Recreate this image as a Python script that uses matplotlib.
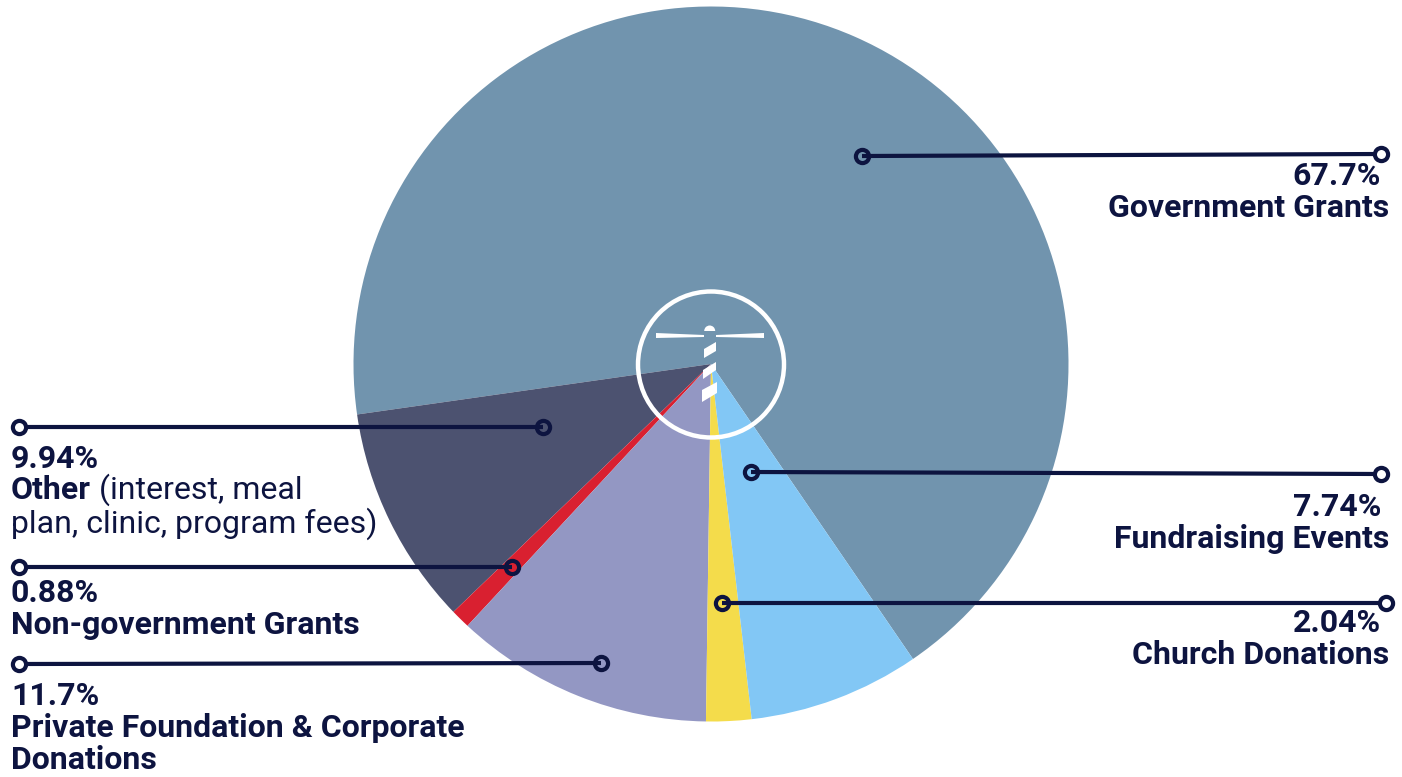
import matplotlib
matplotlib.use("Agg")
import matplotlib.pyplot as plt
from matplotlib.patches import Circle, Polygon, Wedge

# Anteile der Einnahmen in Prozent, gegen den Uhrzeigersinn
sources = ["Government Grants", "Other", "Non-government Grants",
           "Private Foundation & Corporate Donations", "Church Donations", "Fundraising Events"]
shares = [67.7, 9.94, 0.88, 11.7, 2.04, 7.74]
share_labels = ["67.7%", "9.94%", "0.88%", "11.7%", "2.04%", "7.74%"]
slice_colors = ["#7194ae", "#4c5270", "#d92030", "#9397c3", "#f4dc4b", "#82c7f5"]

NAVY = "#0d1440"
H = 777

plt.rcParams["font.family"] = ["Roboto", "DejaVu Sans"]
fig = plt.figure(figsize=(14.02, 7.77), dpi=100)
ax = fig.add_axes([0, 0, 1, 1])


# Pixelkoordinaten von oben links
def py(y):
    return H - y


# Kuchen
ax.pie(shares, colors=slice_colors, startangle=304.4, counterclock=True,
       center=(711, py(364)), radius=357.5, wedgeprops={"linewidth": 0})
ax.set_xlim(0, 1402)
ax.set_ylim(0, H)
ax.set_aspect("equal")
ax.axis("off")

# Leuchtturm-Logo in der Mitte
ax.add_patch(Circle((711, py(364.5)), 73, fill=False, ec="white", lw=3.2, zorder=3))
ax.add_patch(Wedge((709.7, py(331)), 5.5, 0, 180, fc="white", ec="none", zorder=3))
logo_parts = [
    [(656, 333), (704, 335), (704, 337), (656, 338)],
    [(716, 335), (764, 333), (764, 338), (716, 337)],
    [(704, 349), (716, 342), (716, 351), (704, 358)],
    [(703, 370), (716, 362), (716, 370), (703, 379)],
    [(702, 390), (717, 382), (717, 393), (702, 402)],
]
for part in logo_parts:
    ax.add_patch(Polygon([(x, py(y)) for x, y in part], fc="white", ec="none", zorder=3))

# Verbindungslinien: (x1, y1, x2, y2), zweites Ende liegt außen
leaders = [
    (862, 156, 1381, 154),
    (543, 427, 19, 427),
    (512, 567, 19, 567),
    (601, 663, 19, 664),
    (722, 603, 1386, 603),
    (751, 472, 1381, 474),
]
for x1, y1, x2, y2 in leaders:
    ax.plot([x1, x2], [py(y1), py(y2)], color=NAVY, lw=3, zorder=4, solid_capstyle="butt")
    ax.plot([x1], [py(y1)], "o", ms=9.5, mfc="none", mec=NAVY, mew=3, zorder=5)
    ax.plot([x2], [py(y2)], "o", ms=9.5, mfc="white", mec=NAVY, mew=3, zorder=5)

FS = 23


def label(x, y, s, ha="left", weight="bold"):
    return ax.text(x, py(y), s, ha=ha, va="baseline", fontsize=FS, fontweight=weight,
                   color=NAVY, zorder=6)


# Beschriftung rechts
label(1381, 185, share_labels[0], ha="right")
label(1389, 217, sources[0], ha="right")
label(1381, 516, share_labels[5], ha="right")
label(1389, 548, sources[5], ha="right")
label(1381, 632, share_labels[4], ha="right")
label(1389, 664, sources[4], ha="right")

# Beschriftung links
label(11, 468, share_labels[1])
other = label(11, 499, sources[1])
fig.canvas.draw()
end = other.get_window_extent().x1
label(end + 8, 499, "(interest, meal", weight="normal")
label(11, 533, "plan, clinic, program fees)", weight="normal")
label(11, 602, share_labels[2])
label(11, 634, sources[2])
label(11, 705, share_labels[3])
label(11, 737, "Private Foundation & Corporate")
label(11, 769, "Donations")

fig.savefig("out.png", dpi=100, facecolor="white")
